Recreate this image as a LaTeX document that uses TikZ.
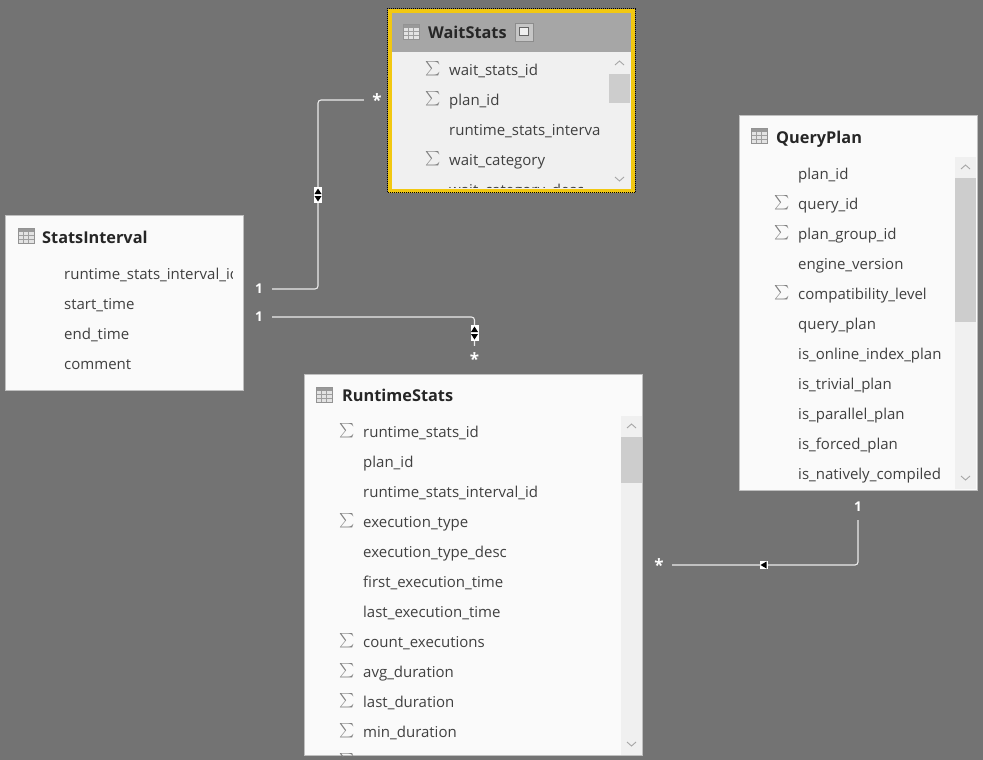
\documentclass[tikz,border=0pt]{standalone}
\usepackage{xcolor}
\usepackage{amsmath}
\usepackage{fontspec}
\setmainfont{Open Sans}
\usepackage{tikz}
\usetikzlibrary{calc}
\definecolor{canvasgray}{HTML}{737373}
\definecolor{cardwhite}{HTML}{FAFAFA}
\definecolor{paneflat}{HTML}{F0F0F0}
\definecolor{headgray}{HTML}{A6A6A6}
\definecolor{thumbgray}{HTML}{CDCDCD}
\definecolor{markyellow}{HTML}{F2C811}
\definecolor{inkgray}{HTML}{404040}
\tikzset{
  tablebox/.style={draw=lightgray, line width=.6pt, fill=cardwhite, anchor=north west, inner sep=0, outer sep=0, xshift=-.5pt, yshift=.5pt},
  titletext/.style={anchor=base west, inner sep=0, text=black!85, font=\fontsize{16.3}{18}\selectfont\bfseries},
  fieldtext/.style={anchor=base west, inner sep=0, text=inkgray, font=\fontsize{15}{16}\selectfont},
  sumsign/.style={inner sep=0, text=gray, font=\fontsize{14.5}{15}\selectfont},
  cardlabel/.style={minimum size=26pt, inner sep=0, text=white, font=\fontsize{13.5}{14}\selectfont\bfseries},
  relline/.style={draw=white!92!black, line width=1.1pt, rounded corners=3pt},
  relmark/.style={fill=white, inner sep=0, minimum width=8pt, minimum height=16pt},
  relmarksmall/.style={fill=white, inner sep=0, minimum size=8pt},
  chevron/.style={draw=gray!70, line width=.9pt}
}
% table icon, centred on the given point
\newcommand{\tableicon}[2]{
 \fill[gray!22] (#1-8,#2-8) rectangle (#1+8,#2+7);
 \fill[gray!80] (#1-8,#2-8) rectangle (#1+8,#2-4);
 \foreach \gx in {-3,2} \draw[gray!75, line width=.6pt] (#1+\gx,#2-4)--(#1+\gx,#2+7);
 \foreach \gy in {-.5,3} \draw[gray!75, line width=.6pt] (#1-8,#2+\gy)--(#1+8,#2+\gy);
 \draw[gray!85, line width=.8pt] (#1-8,#2-8) rectangle (#1+8,#2+7);
}
% rows of a table: prefix, text x, first y, list
\newcommand{\tablerows}[4]{
 \foreach \t/\s [count=\i from 0] in {#4} {
  \node[fieldtext] (#1-\i) at (#2,#3+6.3+30*\i) {\t};
  \ifnum\s=1 \node[sumsign] (#1-s\i) at (#2-16,#3+30*\i) {$\sum$}; \fi
 };
}
% scroll bar: x left, x right, y top, y bottom, thumb top, thumb bottom
\newcommand{\scrollbar}[6]{
 \fill[paneflat] (#1,#3) rectangle (#2,#4);
 \fill[thumbgray] (#1,#5) rectangle (#2,#6);
 \draw[chevron] ({(#1+#2)/2-4.5},#3+12)--({(#1+#2)/2},#3+8)--({(#1+#2)/2+4.5},#3+12);
 \draw[chevron] ({(#1+#2)/2-4.5},#4-13)--({(#1+#2)/2},#4-9)--({(#1+#2)/2+4.5},#4-13);
}
% double marker on a vertical relation
\newcommand{\updown}[1]{
 \fill[black] ($(#1.center)+(-3.5,-1)$) -- ++(7,0) -- ++(-3.5,-5.5) -- cycle;
 \fill[black] ($(#1.center)+(-3.5,1)$) -- ++(7,0) -- ++(-3.5,5.5) -- cycle;
}
\begin{document}
\begin{tikzpicture}[x=1pt,y=-1pt]
\fill[canvasgray] (0,0) rectangle (983,760);
\useasboundingbox (0,0) rectangle (983,760);

% StatsInterval
\node[tablebox, minimum width=238pt, minimum height=175pt] (statsInterval) at (6,216) {};
\tableicon{26}{236}
\node[titletext] (statsIntervalTitle) at (42,243) {StatsInterval};
\begin{scope}
\clip (6,216) rectangle (232,390);
\tablerows{si}{64}{273}{runtime\_stats\_interval\_id/0,start\_time/0,end\_time/0,comment/0}
\end{scope}

% WaitStats
\node[tablebox, draw=none, fill=paneflat, minimum width=245pt, minimum height=182pt] (waitStats) at (389,10) {};
\fill[headgray] (389,10) rectangle (633,52);
\tableicon{411}{32}
\node[titletext] (waitStatsTitle) at (428,38.6) {WaitStats};
\draw[gray!90, fill=gray!45, line width=.8pt] (515,23) rectangle (533,41);
\draw[inkgray!80, fill=paneflat, line width=1pt] (519.5,28) rectangle (528.5,36);
\begin{scope}
\clip (389,52) rectangle (600,187);
\tablerows{ws}{449}{69}{wait\_stats\_id/1,plan\_id/1,runtime\_stats\_interval\_id/0,wait\_category/1,wait\_category\_desc/0}
\end{scope}
\scrollbar{609}{630}{53}{190}{74}{103}
\draw[markyellow, line width=3.4pt] (390,11) rectangle (633,191);
\draw[black, line width=1pt, densely dotted] (387.5,8.5) rectangle (635.5,192.5);

% QueryPlan
\node[tablebox, minimum width=238pt, minimum height=375pt] (queryPlan) at (740,116) {};
\tableicon{759}{136}
\node[titletext] (queryPlanTitle) at (776,143) {QueryPlan};
\tablerows{qp}{798}{173}{plan\_id/0,query\_id/1,plan\_group\_id/1,engine\_version/0,compatibility\_level/1,query\_plan/0,is\_online\_index\_plan/0,is\_trivial\_plan/0,is\_parallel\_plan/0,is\_forced\_plan/0,is\_natively\_compiled/0}
\scrollbar{955}{976}{157}{489}{178}{322}

% RuntimeStats
\node[tablebox, minimum width=338pt, minimum height=381pt] (runtimeStats) at (305,375) {};
\tableicon{324}{395}
\node[titletext] (runtimeStatsTitle) at (342,401) {RuntimeStats};
\begin{scope}
\clip (305,375) rectangle (643,756);
\tablerows{rs}{363}{431}{runtime\_stats\_id/1,plan\_id/0,runtime\_stats\_interval\_id/0,execution\_type/1,execution\_type\_desc/0,first\_execution\_time/0,last\_execution\_time/0,count\_executions/1,avg\_duration/1,last\_duration/1,min\_duration/1}
\node[sumsign] (rs-s11) at (347,761) {$\sum$};
\end{scope}
\scrollbar{621}{642}{416}{755}{437}{483}

% relations
\node[cardlabel] (oneWait) at (259,289) {1};
\node[cardlabel] (oneRuntime) at (259,317) {1};
\node[cardlabel] (oneQuery) at (858,507) {1};
\node[cardlabel] (manyWait) at (377,100) {\raisebox{-.35em}{\fontsize{17}{17}\selectfont *}};
\node[cardlabel] (manyRuntime) at (474.5,359) {\raisebox{-.35em}{\fontsize{17}{17}\selectfont *}};
\node[cardlabel] (manyQuery) at (659,565) {\raisebox{-.35em}{\fontsize{17}{17}\selectfont *}};
\node[relmark] (markWait) at (318,195) {};
\node[relmark] (markRuntime) at (474.5,333) {};
\node[relmarksmall] (markQuery) at (764,565) {};
\draw[relline] (oneWait.east) -| (markWait.center) |- (manyWait.west);
\draw[relline] (oneRuntime.east) -| (manyRuntime.north);
\draw[relline] (oneQuery.south) |- (manyQuery.east);
\node[relmark] (markWaitTop) at (318,195) {};
\node[relmark] (markRuntimeTop) at (474.5,333) {};
\node[relmarksmall] (markQueryTop) at (764,565) {};
\updown{markWaitTop}
\updown{markRuntimeTop}
\fill[black] ($(markQueryTop.center)+(-3.5,0)$) -- ++(6,-3.5) -- ++(0,7) -- cycle;
\end{tikzpicture}
\end{document}
